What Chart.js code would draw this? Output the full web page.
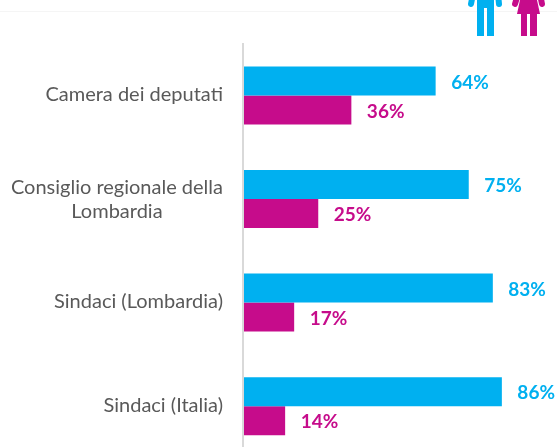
<!DOCTYPE html>
<html lang="it">
<head>
<meta charset="utf-8">
<title>Camera, Consiglio regionale e sindaci</title>
<script src="https://cdn.jsdelivr.net/npm/chart.js@4"></script>
<style>
    html, body { margin: 0; padding: 0; background: #fff; overflow: hidden; }
    #contenitore { position: relative; width: 557px; height: 447px; overflow: hidden; }
    canvas { display: block; }
</style>
</head>
<body>
<div id="contenitore">
    <canvas id="grafico" width="557" height="458"></canvas>
</div>
<script>
const categorie = [
    ["Camera dei deputati"],
    ["Consiglio regionale della", "Lombardia"],
    ["Sindaci (Lombardia)"],
    ["Sindaci (Italia)"]
];
const uomini = [64, 75, 83, 86];
const donne = [36, 25, 17, 14];

const BLU = "#00B0F0";
const MAGENTA = "#C60C8B";
const GRIGIO = "#595959";
const FONT = "Lato, 'Open Sans', sans-serif";

// etichette delle categorie: la seconda riga e' centrata sulla prima
const etichetteCategorie = {
    id: "etichetteCategorie",
    afterDraw(chart) {
        const ctx = chart.ctx;
        const scala = chart.scales.y;
        const destra = scala.right - 20;
        ctx.save();
        ctx.font = "20px " + FONT;
        ctx.fillStyle = GRIGIO;
        ctx.textBaseline = "middle";
        categorie.forEach((righe, i) => {
            const y = scala.getPixelForTick(i) - (righe.length > 1 ? -1 : 1);
            const largo = ctx.measureText(righe[0]).width;
            righe.forEach((riga, r) => {
                const yRiga = y + (r - (righe.length - 1) / 2) * 24;
                if (r === 0) {
                    ctx.textAlign = "right";
                    ctx.fillText(riga, destra, yRiga);
                } else {
                    ctx.textAlign = "center";
                    ctx.fillText(riga, destra - largo / 2, yRiga);
                }
            });
        });
        ctx.restore();
    }
};

// percentuali a destra delle barre
const etichetteValori = {
    id: "etichetteValori",
    afterDatasetsDraw(chart) {
        const ctx = chart.ctx;
        ctx.save();
        ctx.font = "bold 19px " + FONT;
        ctx.textAlign = "left";
        ctx.textBaseline = "middle";
        chart.data.datasets.forEach((serie, d) => {
            ctx.fillStyle = serie.backgroundColor;
            chart.getDatasetMeta(d).data.forEach((barra, i) => {
                ctx.fillText(serie.data[i] + "%", barra.x + 15.5, barra.y + 1.5);
            });
        });
        ctx.restore();
    }
};

// linea chiara in alto e le due figure (uomo, donna)
const intestazione = {
    id: "intestazione",
    afterDraw(chart) {
        const ctx = chart.ctx;
        ctx.save();
        ctx.fillStyle = "#F5F5F5";
        ctx.fillRect(0, 11, 557, 1);

        ctx.lineWidth = 6;
        ctx.lineCap = "round";

        ctx.fillStyle = BLU;
        ctx.strokeStyle = BLU;
        ctx.fillRect(477, 0, 17, 8);
        ctx.fillRect(477, 8, 7, 28);
        ctx.fillRect(487, 8, 7, 28);
        ctx.beginPath();
        ctx.moveTo(473, -6);
        ctx.lineTo(471, 4);
        ctx.moveTo(498, -6);
        ctx.lineTo(499, 4);
        ctx.stroke();

        ctx.fillStyle = MAGENTA;
        ctx.strokeStyle = MAGENTA;
        ctx.beginPath();
        ctx.moveTo(520, 0);
        ctx.lineTo(537, 0);
        ctx.lineTo(540, 14);
        ctx.lineTo(517, 14);
        ctx.closePath();
        ctx.fill();
        ctx.fillRect(521, 14, 6, 22);
        ctx.fillRect(530, 14, 7, 22);
        ctx.beginPath();
        ctx.moveTo(518, -6);
        ctx.lineTo(515, 4);
        ctx.moveTo(540, -6);
        ctx.lineTo(542, 4);
        ctx.stroke();
        ctx.restore();
    }
};

new Chart(document.getElementById("grafico").getContext("2d"), {
    type: "bar",
    data: {
        labels: categorie,
        datasets: [
            { label: "Uomini", data: uomini, backgroundColor: BLU },
            { label: "Donne", data: donne, backgroundColor: MAGENTA }
        ]
    },
    options: {
        indexAxis: "y",
        responsive: false,
        animation: false,
        layout: { padding: { top: 43.6, right: 13, left: 0, bottom: 0 } },
        categoryPercentage: 0.56,
        barPercentage: 1,
        scales: {
            x: { display: false, min: 0, max: 100 },
            y: {
                afterFit(scala) { scala.width = 243; },
                grid: { display: false },
                border: { display: true, color: "#D9D9D9", width: 2, z: 1 },
                ticks: { display: false }
            }
        },
        plugins: { legend: { display: false }, tooltip: { enabled: false } }
    },
    plugins: [etichetteCategorie, etichetteValori, intestazione]
});
</script>
</body>
</html>
